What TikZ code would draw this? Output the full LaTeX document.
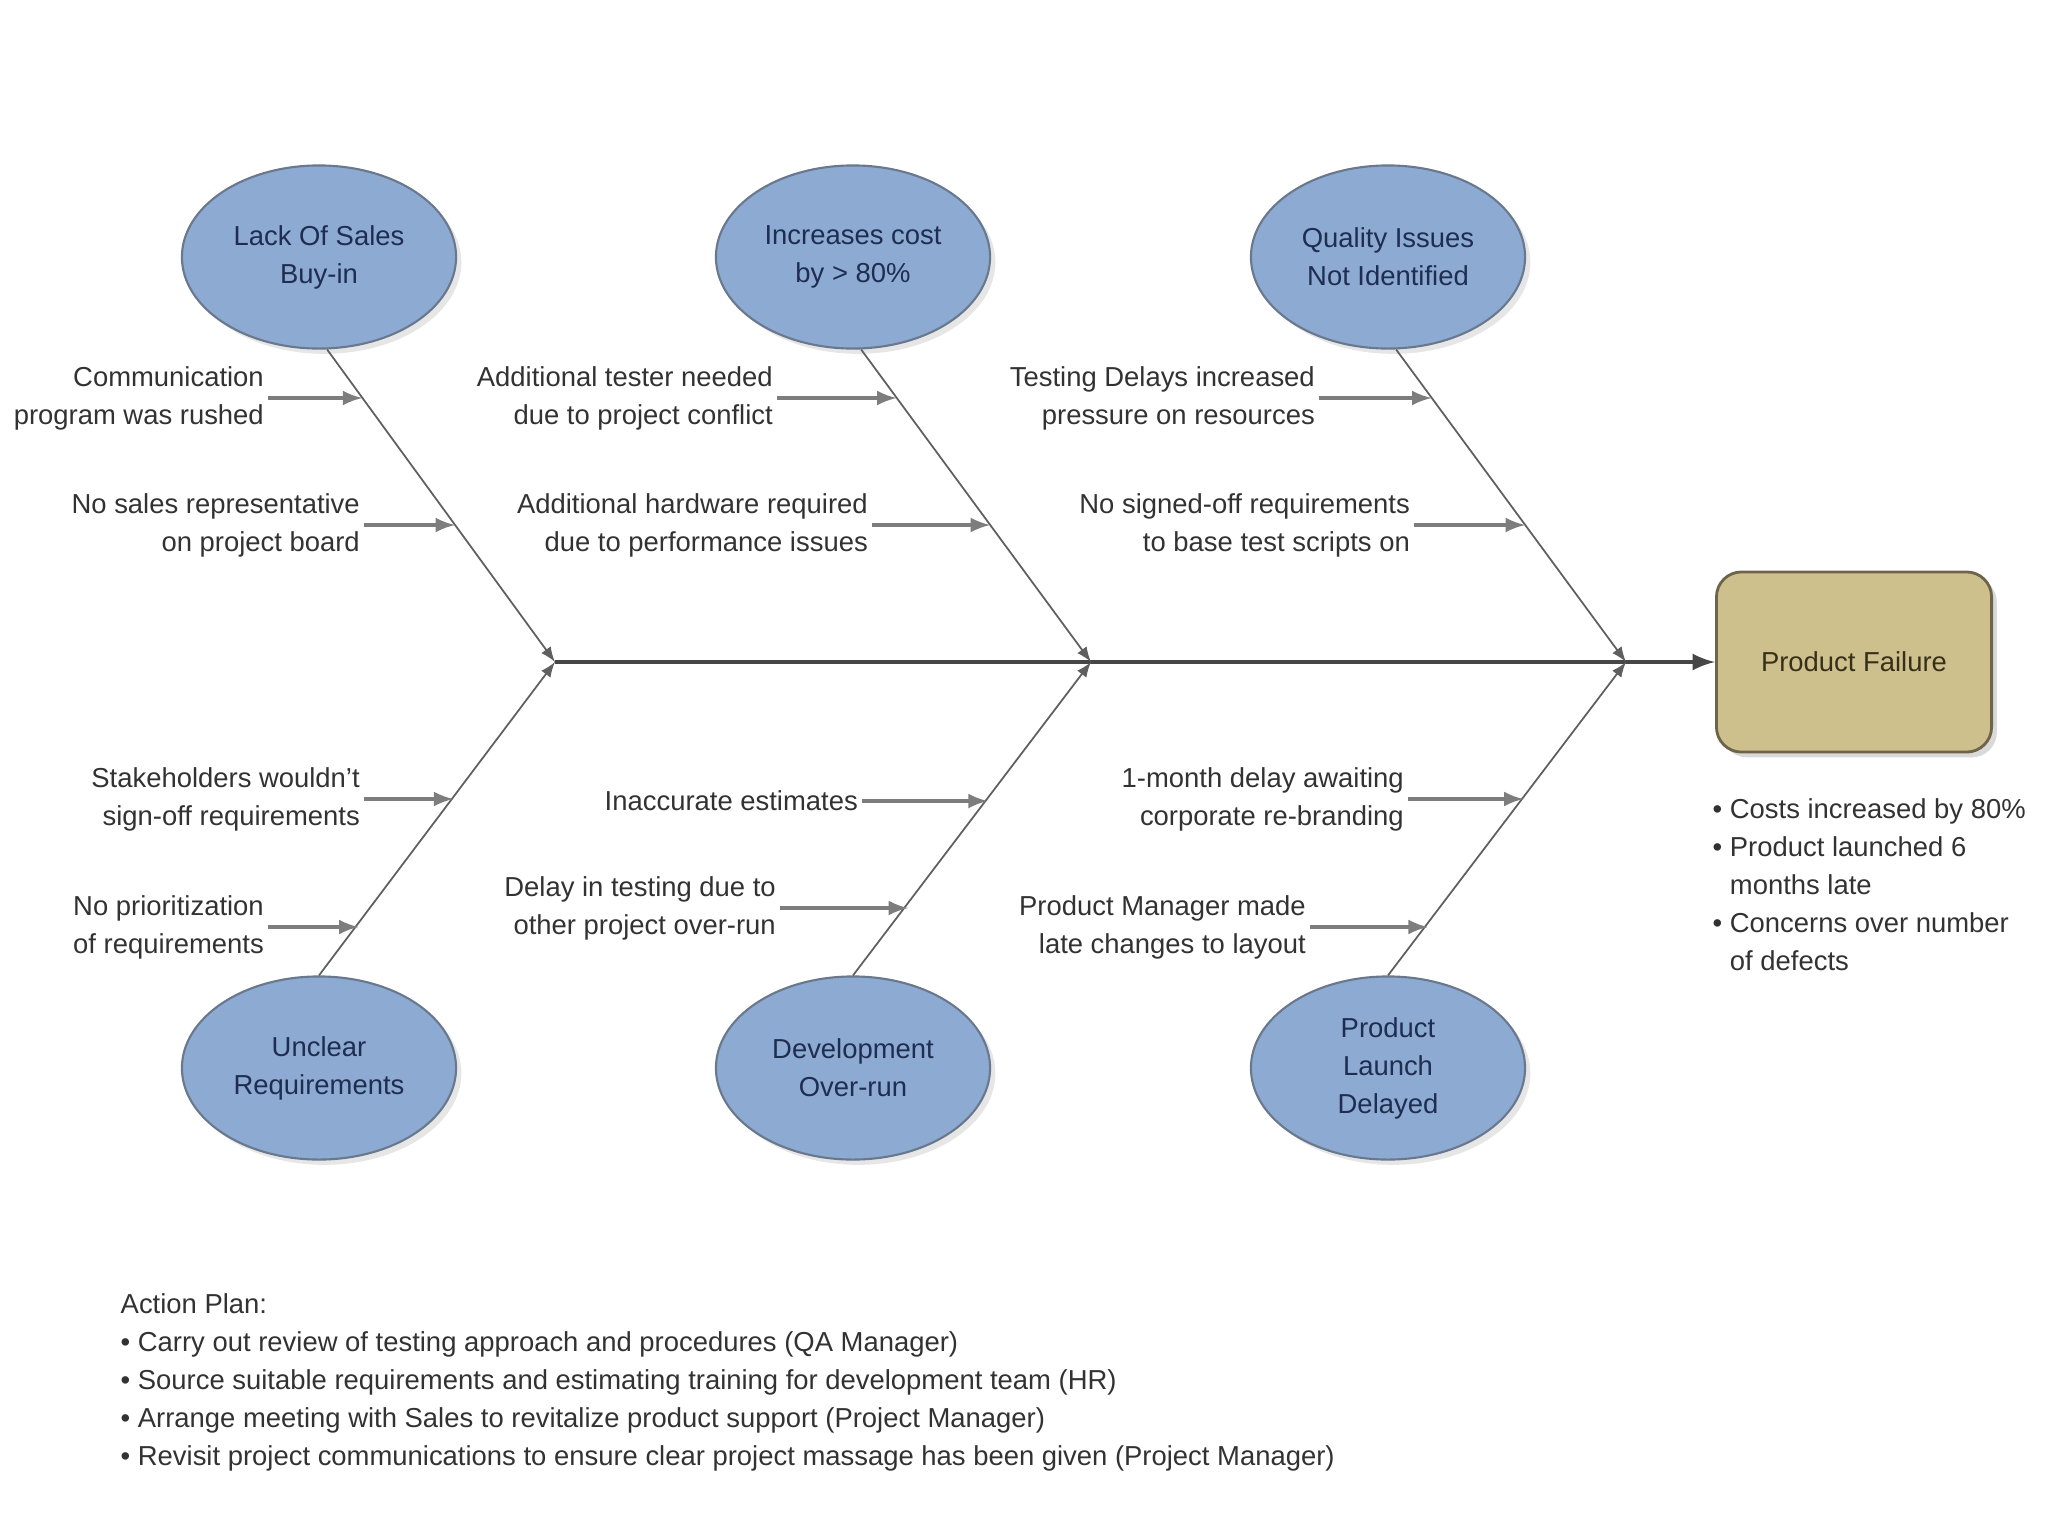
\documentclass[tikz,border=0pt]{standalone}
\usepackage{fontspec}
\setmainfont{Liberation Sans}
\usetikzlibrary{shapes.geometric,shadows}
\definecolor{CauseBlue}{RGB}{141,170,210}
\definecolor{CauseEdge}{RGB}{105,120,140}
\definecolor{CauseText}{RGB}{30,45,80}
\definecolor{FailKhaki}{RGB}{206,192,140}
\definecolor{FailEdge}{RGB}{110,100,75}
\definecolor{FailText}{RGB}{55,48,25}
\definecolor{SpineGray}{RGB}{70,70,70}
\definecolor{BoneGray}{RGB}{95,95,95}
\definecolor{SubGray}{RGB}{125,125,125}
\definecolor{TextGray}{RGB}{50,50,50}

\begin{document}
\begin{tikzpicture}[x=0.01cm, y=-0.01cm, >=latex, font=\fontsize{7.8}{10.8}\selectfont,
  cause/.style={ellipse, draw=CauseEdge, fill=CauseBlue, line width=0.6pt, minimum width=2.74cm, minimum height=1.83cm, inner sep=0pt, align=center, text=CauseText, drop shadow={opacity=0.2, shadow xshift=1.5pt, shadow yshift=-1.5pt}},
  effect/.style={rectangle, rounded corners=0.25cm, draw=FailEdge, fill=FailKhaki, line width=0.8pt, minimum width=2.75cm, minimum height=1.8cm, text=FailText, drop shadow={opacity=0.3, shadow xshift=1.5pt, shadow yshift=-1.5pt}},
  reason/.style={anchor=east, align=right, text=TextGray, inner sep=1pt},
  bone/.style={->, draw=BoneGray, line width=0.5pt},
  sub/.style={->, draw=SubGray, line width=0.9pt},
  spine/.style={->, draw=SpineGray, line width=1.2pt}]
  \useasboundingbox (0,0) rectangle (2048,1536);

  % causes
  \node[cause] (sales) at (319,257) {Lack Of Sales\\Buy-in};
  \node[cause] (cost) at (853,257) {Increases cost\\by > 80\%};
  \node[cause] (quality) at (1388,257) {Quality Issues\\Not Identified};
  \node[cause] (reqs) at (319,1068) {Unclear\\Requirements};
  \node[cause] (overrun) at (853,1068) {Development\\Over-run};
  \node[cause] (launch) at (1388,1068) {Product\\Launch\\Delayed};

  % effect
  \node[effect] (fail) at (1854,662) {Product Failure};

  % spine
  \coordinate (j1) at (555,662);
  \coordinate (j2) at (1091,662);
  \coordinate (j3) at (1626,662);
  \draw[spine] (j1) -- (fail.west);

  % bones
  \draw[bone] (sales.-85) -- coordinate[pos=0.154] (s1) coordinate[pos=0.561] (s2) (j1);
  \draw[bone] (cost.-85) -- coordinate[pos=0.154] (c1) coordinate[pos=0.561] (c2) (j2);
  \draw[bone] (quality.-85) -- coordinate[pos=0.154] (q1) coordinate[pos=0.561] (q2) (j3);
  \draw[bone] (reqs.north) -- coordinate[pos=0.569] (u1) coordinate[pos=0.167] (u2) (j1);
  \draw[bone] (overrun.north) -- coordinate[pos=0.566] (d1) coordinate[pos=0.231] (d2) (j2);
  \draw[bone] (launch.north) -- coordinate[pos=0.569] (l1) coordinate[pos=0.167] (l2) (j3);

  % sub causes
  \node[reason] (rs1) at (268,398) {Communication\\program was rushed};
  \node[reason] (rs2) at (364,525) {No sales representative\\on project board};
  \node[reason] (rc1) at (777,398) {Additional tester needed\\due to project conflict};
  \node[reason] (rc2) at (872,525) {Additional hardware required\\due to performance issues};
  \node[reason] (rq1) at (1319,398) {Testing Delays increased\\pressure on resources};
  \node[reason] (rq2) at (1414,525) {No signed-off requirements\\to base test scripts on};
  \node[reason] (ru1) at (364,799) {Stakeholders wouldn't\\sign-off requirements};
  \node[reason] (ru2) at (268,927) {No prioritization\\of requirements};
  \node[reason] (rd1) at (862,801) {Inaccurate estimates};
  \node[reason] (rd2) at (780,908) {Delay in testing due to\\other project over-run};
  \node[reason] (rl1) at (1408,799) {1-month delay awaiting\\corporate re-branding};
  \node[reason] (rl2) at (1310,927) {Product Manager made\\late changes to layout};

  \draw[sub] (rs1.east) -- (rs1.east -| s1);
  \draw[sub] (rs2.east) -- (rs2.east -| s2);
  \draw[sub] (rc1.east) -- (rc1.east -| c1);
  \draw[sub] (rc2.east) -- (rc2.east -| c2);
  \draw[sub] (rq1.east) -- (rq1.east -| q1);
  \draw[sub] (rq2.east) -- (rq2.east -| q2);
  \draw[sub] (ru1.east) -- (ru1.east -| u1);
  \draw[sub] (ru2.east) -- (ru2.east -| u2);
  \draw[sub] (rd1.east) -- (rd1.east -| d1);
  \draw[sub] (rd2.east) -- (rd2.east -| d2);
  \draw[sub] (rl1.east) -- (rl1.east -| l1);
  \draw[sub] (rl2.east) -- (rl2.east -| l2);

  % notes
  \node[anchor=west, align=left, text=TextGray, inner sep=0pt] (outcome) at (1712,885)
    {\textbullet\ Costs increased by 80\%\\
     \textbullet\ Product launched 6\\
     \phantom{\textbullet\ }months late\\
     \textbullet\ Concerns over number\\
     \phantom{\textbullet\ }of defects};
  \node[anchor=west, align=left, text=TextGray, inner sep=0pt] (plan) at (120,1382)
    {Action Plan:\\
     \textbullet\ Carry out review of testing approach and procedures (QA Manager)\\
     \textbullet\ Source suitable requirements and estimating training for development team (HR)\\
     \textbullet\ Arrange meeting with Sales to revitalize product support (Project Manager)\\
     \textbullet\ Revisit project communications to ensure clear project massage has been given (Project Manager)};
\end{tikzpicture}
\end{document}
